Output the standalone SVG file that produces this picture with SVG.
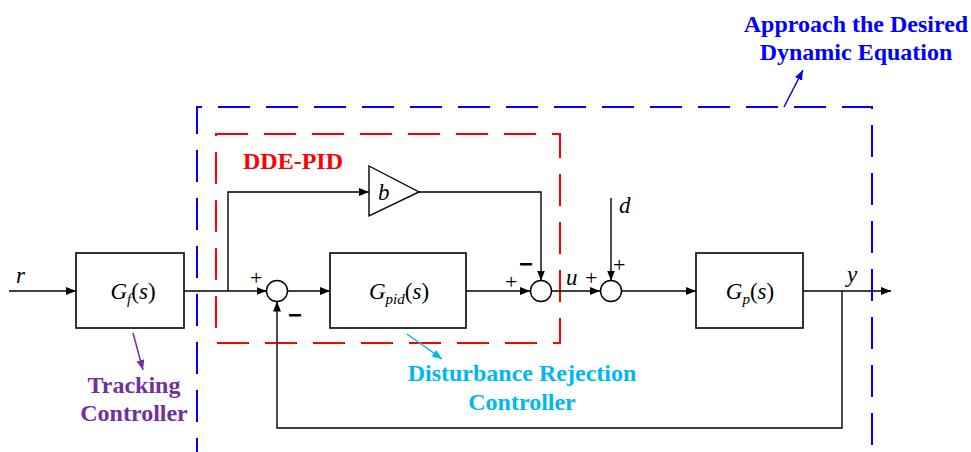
<svg xmlns="http://www.w3.org/2000/svg" width="971" height="452" viewBox="0 0 971 452">
<defs>
<style>
.ln{fill:none;stroke:#000;stroke-width:1.4}
.bx{fill:#fff;stroke:#000;stroke-width:1.6}
.m{font-family:"Liberation Serif",serif;font-size:23px;fill:#000}
.i{font-style:italic}
.sg{font-family:"Liberation Serif",serif;font-size:22px;fill:#000}
.mn{font-family:"Liberation Sans",sans-serif;font-size:24px;font-weight:bold;fill:#000}
.lb{font-family:"Liberation Serif",serif;font-weight:bold;font-size:24px}
</style>
<marker id="a" viewBox="0 0 10 8" refX="10" refY="4" markerWidth="10" markerHeight="8" markerUnits="userSpaceOnUse" orient="auto"><path d="M0,0L10,4L0,8z" fill="#000"/></marker>
<marker id="ab" viewBox="0 0 10 8" refX="10" refY="4" markerWidth="10" markerHeight="8" markerUnits="userSpaceOnUse" orient="auto"><path d="M0,0L10,4L0,8z" fill="#0000ff"/></marker>
<marker id="ap" viewBox="0 0 10 8" refX="10" refY="4" markerWidth="10" markerHeight="8" markerUnits="userSpaceOnUse" orient="auto"><path d="M0,0L10,4L0,8z" fill="#7030a0"/></marker>
<marker id="ac" viewBox="0 0 10 8" refX="10" refY="4" markerWidth="10" markerHeight="8" markerUnits="userSpaceOnUse" orient="auto"><path d="M0,0L10,4L0,8z" fill="#00b7ef"/></marker>
</defs>
<rect width="971" height="452" fill="#fff"/>
<g id="regions">
<path d="M197,470V107H872V470" fill="none" stroke="#0000ff" stroke-width="2" stroke-dasharray="32 16"/>
<rect x="216" y="134" width="344" height="209" fill="none" stroke="#ff0000" stroke-width="2" stroke-dasharray="32 16"/>
</g>
<g id="connectors">
<path class="ln" d="M9,291H76" marker-end="url(#a)"/>
<path class="ln" d="M184,291H266.5" marker-end="url(#a)"/>
<path class="ln" d="M228,291V192H369" marker-end="url(#a)"/>
<path class="ln" d="M287.5,291H330" marker-end="url(#a)"/>
<path class="ln" d="M466,291H530" marker-end="url(#a)"/>
<path class="ln" d="M419,192H541V280.5" marker-end="url(#a)"/>
<path class="ln" d="M551.5,291H600" marker-end="url(#a)"/>
<path class="ln" d="M611,198V280.5" marker-end="url(#a)"/>
<path class="ln" d="M621.5,291H696" marker-end="url(#a)"/>
<path class="ln" d="M803,291H891" marker-end="url(#a)"/>
<path class="ln" d="M842,291V428H277V301.5" marker-end="url(#a)"/>
<path d="M784,107L803,70" fill="none" stroke="#0000ff" stroke-width="1.5" marker-end="url(#ab)"/>
<path d="M133,333L143,370" fill="none" stroke="#7030a0" stroke-width="1.5" marker-end="url(#ap)"/>
<path d="M407,334L442,359" fill="none" stroke="#00b7ef" stroke-width="1.5" marker-end="url(#ac)"/>
</g>
<g id="Gf">
<rect class="bx" x="76" y="253" width="108" height="75"/>
<text class="m" x="133" y="299" text-anchor="middle"><tspan class="i">G</tspan><tspan class="i" font-size="15" dy="5">f</tspan><tspan dy="-5">(</tspan><tspan class="i">s</tspan>)</text>
</g>
<g id="sum1"><circle cx="277" cy="291" r="10.5" fill="#fff" stroke="#000" stroke-width="1.4"/></g>
<g id="Gpid">
<rect class="bx" x="330" y="253" width="136" height="75"/>
<text class="m" x="399" y="299" text-anchor="middle"><tspan class="i">G</tspan><tspan class="i" font-size="15" dy="5">pid</tspan><tspan dy="-5">(</tspan><tspan class="i">s</tspan>)</text>
</g>
<g id="b">
<path d="M369,166L419,192L369,216z" fill="#fff" stroke="#000" stroke-width="1.4"/>
<text class="m i" x="378" y="200">b</text>
</g>
<g id="sum2"><circle cx="541" cy="291" r="10.5" fill="#fff" stroke="#000" stroke-width="1.4"/></g>
<g id="sum3"><circle cx="611" cy="291" r="10.5" fill="#fff" stroke="#000" stroke-width="1.4"/></g>
<g id="Gp">
<rect class="bx" x="696" y="253" width="107" height="75"/>
<text class="m" x="750" y="299" text-anchor="middle"><tspan class="i">G</tspan><tspan class="i" font-size="15" dy="5">p</tspan><tspan dy="-5">(</tspan><tspan class="i">s</tspan>)</text>
</g>
<g id="labels">
<text class="m i" x="16" y="283">r</text>
<text class="m i" x="566" y="285">u</text>
<text class="m i" x="619" y="213">d</text>
<text class="m i" x="847" y="282">y</text>
<text class="sg" x="250" y="285">+</text>
<text class="mn" x="288" y="323">−</text>
<text class="sg" x="505" y="289">+</text>
<text class="mn" x="519" y="272">−</text>
<text class="sg" x="585" y="285">+</text>
<text class="sg" x="613" y="272">+</text>
<text class="lb" x="243" y="169" fill="#ff0000">DDE-PID</text>
<text class="lb" x="856" y="32" fill="#0000ff" text-anchor="middle">Approach the Desired</text>
<text class="lb" x="856" y="60" fill="#0000ff" text-anchor="middle">Dynamic Equation</text>
<text class="lb" x="134" y="393" fill="#7030a0" text-anchor="middle">Tracking</text>
<text class="lb" x="134" y="421" fill="#7030a0" text-anchor="middle">Controller</text>
<text class="lb" x="522" y="381" fill="#00b7ef" text-anchor="middle">Disturbance Rejection</text>
<text class="lb" x="522" y="410" fill="#00b7ef" text-anchor="middle">Controller</text>
</g>
</svg>
